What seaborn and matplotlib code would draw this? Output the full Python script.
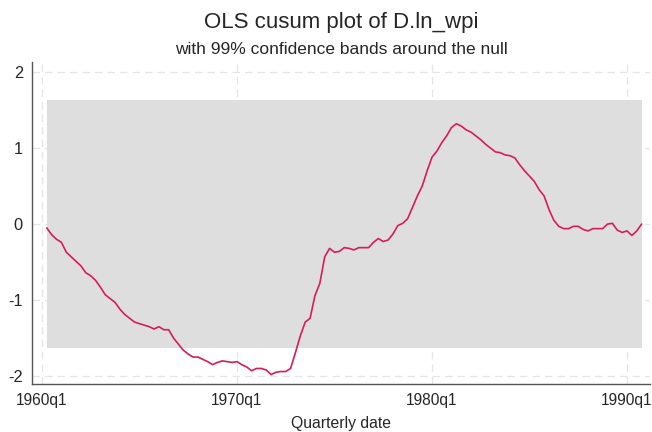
import numpy as np
import pandas as pd
import matplotlib
matplotlib.use("Agg")
import matplotlib.pyplot as plt
import seaborn as sns

sns.set_style("white")
plt.rcParams['font.family'] = ['Liberation Sans', 'DejaVu Sans']

# cusum values, quarterly from 1960q2 to 1990q4
cusum = [
    -0.05, -0.14, -0.20, -0.24, -0.37, -0.43, -0.49, -0.55, -0.64, -0.68,
    -0.74, -0.83, -0.93, -0.98, -1.03, -1.12, -1.19, -1.24, -1.29, -1.31,
    -1.33, -1.35, -1.38, -1.35, -1.39, -1.39, -1.50, -1.58, -1.66, -1.71,
    -1.75, -1.75, -1.78, -1.81, -1.85, -1.82, -1.80, -1.81, -1.82, -1.81,
    -1.85, -1.88, -1.93, -1.90, -1.90, -1.92, -1.98, -1.95, -1.94, -1.94,
    -1.90, -1.69, -1.47, -1.29, -1.24, -0.94, -0.78, -0.43, -0.32, -0.37,
    -0.36, -0.31, -0.32, -0.34, -0.31, -0.31, -0.31, -0.24, -0.19, -0.23,
    -0.21, -0.13, -0.02, 0.01, 0.07, 0.22, 0.37, 0.50, 0.70, 0.88,
    0.96, 1.07, 1.16, 1.27, 1.32, 1.29, 1.24, 1.21, 1.16, 1.11,
    1.05, 1.00, 0.95, 0.94, 0.91, 0.90, 0.87, 0.78, 0.70, 0.63,
    0.56, 0.45, 0.37, 0.19, 0.05, -0.03, -0.06, -0.06, -0.03, -0.03,
    -0.07, -0.09, -0.06, -0.06, -0.06, 0.00, 0.01, -0.08, -0.11, -0.09,
    -0.15, -0.09, 0.00,
]
start_year = 1960.25  # 1960q2
band_crit = 1.63      # 99% critical value
tick_years = [1960, 1970, 1980, 1990]
tick_labels = ["1960q1", "1970q1", "1980q1", "1990q1"]
y_ticks = [-2, -1, 0, 1, 2]

df = pd.DataFrame({"date": start_year + np.arange(len(cusum)) / 4, "cusum": cusum})

fig = plt.figure(figsize=(6.52, 4.32), dpi=100)
ax = fig.add_axes([0.049, 0.111, 0.948, 0.745])

# grid
for y in y_ticks:
    ax.axhline(y, color="#e6e6e6", lw=0.9, ls=(0, (6, 4)), zorder=0)
for x in tick_years:
    ax.axvline(x, color="#e6e6e6", lw=0.9, ls=(0, (6, 4)), zorder=0)

ax.fill_between(df["date"], -band_crit, band_crit, color="#dedede", lw=0, zorder=1)
sns.lineplot(data=df, x="date", y="cusum", ax=ax, color="#d81b5a", lw=1.2, zorder=2)

ax.set_xlim(1959.49, 1991.18)
ax.set_ylim(-2.105, 2.13)
ax.set_xticks(tick_years)
ax.set_xticklabels(tick_labels, fontsize=11.2)
ax.set_yticks(y_ticks)
ax.set_yticklabels([str(v) for v in y_ticks], fontsize=11.8)
ax.set_xlabel("Quarterly date", fontsize=11.3, labelpad=6)
ax.set_ylabel("")
ax.tick_params(direction="out", length=4.5, width=0.8, color="#555555", pad=2)

for side in ["top", "right"]:
    ax.spines[side].set_visible(False)
for side in ["left", "bottom"]:
    ax.spines[side].set_color("#555555")
    ax.spines[side].set_linewidth(1.0)

fig.text(0.523, 0.947, "OLS cusum plot of D.ln_wpi", ha="center", va="center", fontsize=16)
fig.text(0.523, 0.886, "with 99% confidence bands around the null", ha="center", va="center", fontsize=12.5)

plt.savefig("out.png", dpi=100)
